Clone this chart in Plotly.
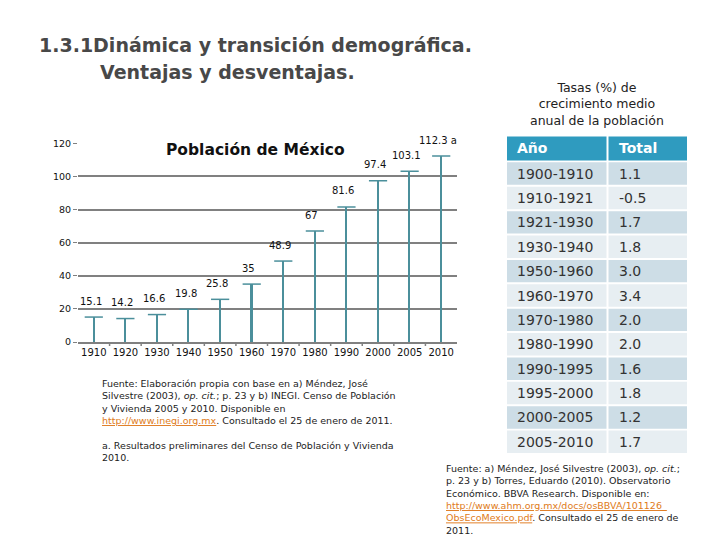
import plotly.graph_objects as go

# ---- chart data ----
years = ["1910", "1920", "1930", "1940", "1950", "1960", "1970", "1980", "1990", "2000", "2005", "2010"]
population = [15.1, 14.2, 16.6, 19.8, 25.8, 35, 48.9, 67, 81.6, 97.4, 103.1, 112.3]
pop_labels = ["15.1", "14.2", "16.6", "19.8", "25.8", "35", "48.9", "67", "81.6", "97.4", "103.1", "112.3 a"]
y_ticks = [0, 20, 40, 60, 80, 100, 120]

# ---- table data ----
table_header = ["Año", "Total"]
periods = ["1900-1910", "1910-1921", "1921-1930", "1930-1940", "1950-1960", "1960-1970",
           "1970-1980", "1980-1990", "1990-1995", "1995-2000", "2000-2005", "2005-2010"]
rates = ["1.1", "-0.5", "1.7", "1.8", "3.0", "3.4", "2.0", "2.0", "1.6", "1.8", "1.2", "1.7"]

OFF = 8  # page body margin
W, H = 720 - OFF, 540 - OFF
stem = "#4b8f9b"
font = "DejaVu Sans"


def py(p):  # reference pixel y -> paper y
    return 1 - (p - OFF) / H


def px(p):  # reference pixel x -> paper x
    return (p - OFF) / W


idx = list(range(len(years)))

fig = go.Figure()

fig.add_trace(go.Bar(
    x=idx, y=population, width=0.05,
    marker=dict(color=stem, line=dict(width=0)),
    hoverinfo="skip", showlegend=False,
))
fig.add_trace(go.Scatter(
    x=idx, y=population, mode="markers",
    marker=dict(symbol="line-ew", size=13, line=dict(width=1.5, color=stem)),
    hoverinfo="skip", showlegend=False,
))

for i, v, lab in zip(idx, population, pop_labels):
    fig.add_annotation(x=i, y=v, text=lab, showarrow=False, yshift=16, xshift=-3,
                       font=dict(family=font, size=10, color="#111111"))

# ---- table drawn as cells ----
col_x = [(507, 606.5), (608.5, 687)]
text_pad = 8
hdr_top, hdr_h, row_h = 133, 25.5, 24.9


def cell(x0, x1, y0, y1, fill):
    fig.add_shape(type="rect", xref="paper", yref="paper",
                  x0=px(x0), x1=px(x1), y0=py(y1), y1=py(y0),
                  fillcolor=fill, line=dict(width=0), layer="below")


for (x0, x1), txt in zip(col_x, table_header):
    cell(x0, x1, hdr_top, hdr_top + hdr_h - 1, "#2f9bbf")
    fig.add_annotation(x=px(x0 + text_pad), y=py(hdr_top + hdr_h / 2 - 0.5), xref="paper", yref="paper",
                       text=f"<b>{txt}</b>", showarrow=False, xanchor="left", yanchor="middle",
                       font=dict(family=font, size=14, color="white"))

for r, (per, rate) in enumerate(zip(periods, rates)):
    top = hdr_top + hdr_h + r * row_h
    fill = "#cddde6" if r % 2 == 0 else "#e7eef2"
    for (x0, x1), txt in zip(col_x, [per, rate]):
        cell(x0, x1, top + 1, top + row_h - 1, fill)
        fig.add_annotation(x=px(x0 + text_pad), y=py(top + row_h / 2), xref="paper", yref="paper",
                           text=txt, showarrow=False, xanchor="left", yanchor="middle",
                           font=dict(family=font, size=14, color="#333333"))

titles = [
    dict(x=37, y=40, text="<b>1.3.1Dinámica y transición demográfica.</b>"),
    dict(x=98, y=67, text="<b>Ventajas y desventajas.</b>"),
]
for a in titles:
    fig.add_annotation(x=px(a["x"]), y=py(a["y"]), xref="paper", yref="paper",
                       text=a["text"], showarrow=False, xanchor="left", yanchor="middle",
                       font=dict(family=font, size=19, color="#484848"))

fig.add_annotation(x=px(255), y=py(147), xref="paper", yref="paper",
                   text="<b>Población de México</b>", showarrow=False,
                   xanchor="center", yanchor="middle",
                   font=dict(family=font, size=15.5, color="#111111"))

fig.add_annotation(x=px(597), y=py(100), xref="paper", yref="paper",
                   text="Tasas (%) de<br>crecimiento medio<br>anual de la población",
                   showarrow=False, align="center", xanchor="center", yanchor="middle",
                   font=dict(family=font, size=12.5, color="#222222"))

link = "#e07b20"
src1 = ("Fuente: Elaboración propia con base en a) Méndez, José<br>"
        "Silvestre (2003), <i>op. cit.</i>; p. 23 y b) INEGI. Censo de Población<br>"
        "y Vivienda 2005 y 2010. Disponible en<br>"
        f"<span style='color:{link};text-decoration:underline'>http://www.inegi.org.mx</span>. Consultado el 25 de enero de 2011.<br>"
        "<br>a. Resultados preliminares del Censo de Población y Vivienda<br>2010.")
fig.add_annotation(x=px(100), y=py(378), xref="paper", yref="paper", text=src1,
                   showarrow=False, xanchor="left", yanchor="top", align="left",
                   font=dict(family=font, size=9.5, color="#222222"))

src2 = ("Fuente: a) Méndez, José Silvestre (2003), <i>op. cit.</i>;<br>"
        "p. 23 y b) Torres, Eduardo (2010). Observatorio<br>"
        "Económico. BBVA Research. Disponible en:<br>"
        f"<span style='color:{link};text-decoration:underline'>http://www.ahm.org.mx/docs/osBBVA/101126_</span><br>"
        f"<span style='color:{link};text-decoration:underline'>ObsEcoMexico.pdf</span>. Consultado el 25 de enero de<br>2011.")
fig.add_annotation(x=px(444), y=py(464), xref="paper", yref="paper", text=src2,
                   showarrow=False, xanchor="left", yanchor="top", align="left",
                   font=dict(family=font, size=9.5, color="#222222"))

fig.update_layout(
    width=W, height=H, autosize=False,
    margin=dict(l=0, r=0, t=0, b=0),
    paper_bgcolor="white", plot_bgcolor="white",
    bargap=0,
    xaxis=dict(domain=[px(78), px(457)], range=[-0.5, len(years) - 0.5],
               tickvals=idx, ticktext=years, tickangle=0,
               ticks="", showline=True, linecolor="#808080", linewidth=2,
               showgrid=False, zeroline=False,
               tickfont=dict(family=font, size=10, color="#111111")),
    yaxis=dict(domain=[py(343), py(140)], range=[0, 120], tickvals=y_ticks,
               ticks="outside", ticklen=4, tickcolor="#808080",
               showgrid=True, gridcolor="#808080", gridwidth=2, zeroline=False,
               showline=False,
               tickfont=dict(family=font, size=9.5, color="#111111")),
)

# small tick marks between categories on the x axis
for b in [i + 0.5 for i in idx[:-1]]:
    fig.add_shape(type="line", xref="x", yref="paper", x0=b, x1=b,
                  y0=py(343), y1=py(347), line=dict(color="#808080", width=1.5))

fig.write_html("out.html")
